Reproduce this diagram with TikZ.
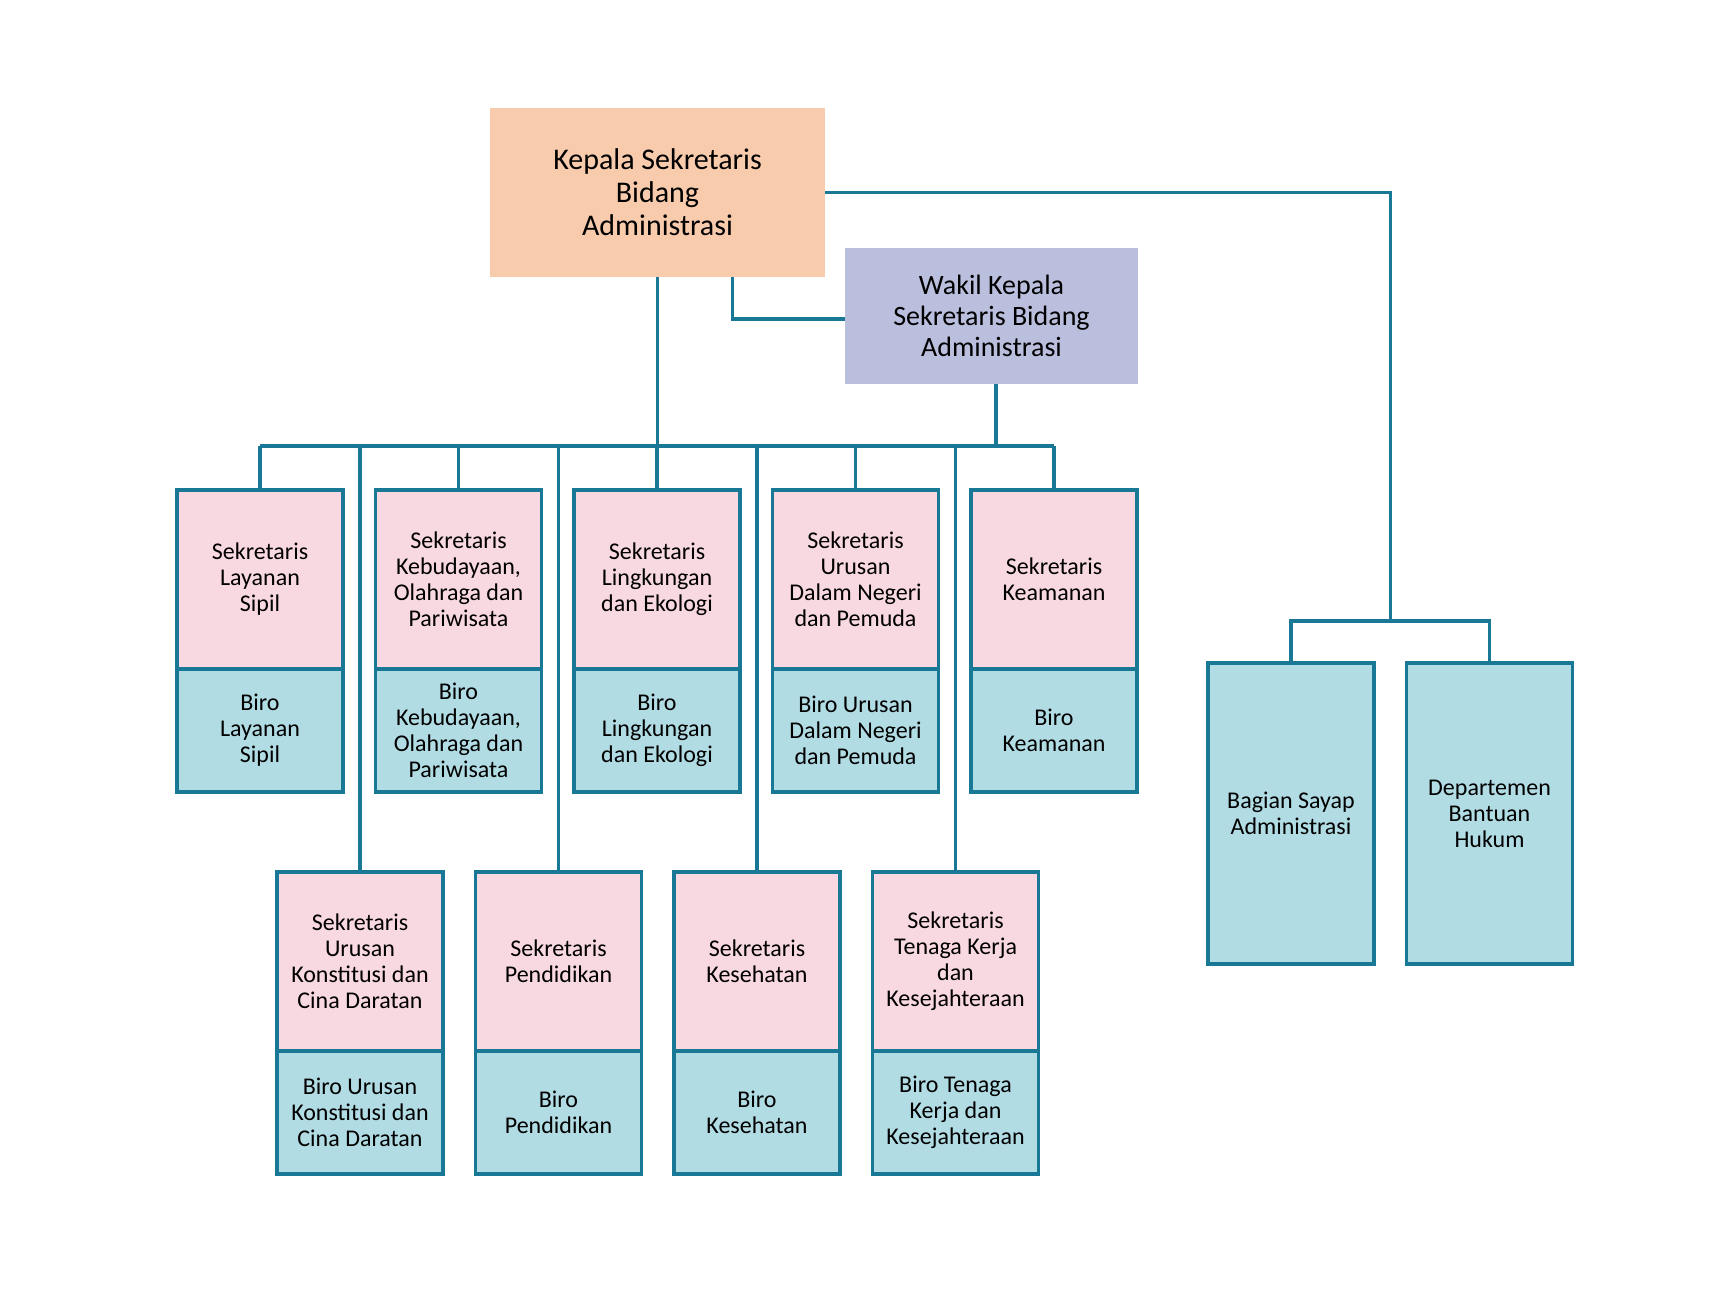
\documentclass[tikz,border=0pt]{standalone}
\usepackage{fontspec}
\setmainfont{Carlito}
\usetikzlibrary{positioning,calc}
\definecolor{OrgTeal}{HTML}{1A7897}
\definecolor{OrgOrange}{HTML}{F8CBAD}
\definecolor{OrgLavender}{HTML}{BBBFDE}
\definecolor{OrgPink}{HTML}{F8D9E1}
\definecolor{OrgBlue}{HTML}{B1DCE4}
\tikzset{
  headbox/.style={fill=OrgOrange, align=center, minimum width=167.5pt, minimum height=84.5pt, outer sep=0pt, font=\fontsize{15}{16.5}\selectfont},
  deputybox/.style={fill=OrgLavender, align=center, minimum width=146.5pt, minimum height=68pt, outer sep=0pt, font=\fontsize{14}{15.5}\selectfont},
  sekbox/.style={draw=OrgTeal, line width=1.6pt, fill=OrgPink, align=center, minimum width=83pt, minimum height=89.5pt, inner sep=2pt, outer sep=0pt, font=\fontsize{12}{13}\selectfont},
  birobox/.style={sekbox, fill=OrgBlue, minimum height=61.5pt},
  unitbox/.style={sekbox, fill=OrgBlue, minimum height=150.5pt},
  link/.style={line width=1.7pt, draw=OrgTeal}
}
\begin{document}
\begin{tikzpicture}[x=0.5pt, y=-0.5pt, node distance=16.25pt]
\useasboundingbox (0,0) rectangle (1736,1294);
% top level
\node[headbox] (head) at (657.5,192.5) {Kepala Sekretaris\\Bidang\\Administrasi};
\node[deputybox] (deputy) at (991.5,316) {Wakil Kepala\\Sekretaris Bidang\\Administrasi};
% first row of secretaries
\node[sekbox, anchor=north] (sLay) at (260,490) {Sekretaris\\Layanan\\Sipil};
\node[sekbox, right=of sLay] (sBud) {Sekretaris\\Kebudayaan,\\Olahraga dan\\Pariwisata};
\node[sekbox, right=of sBud] (sLing) {Sekretaris\\Lingkungan\\dan Ekologi};
\node[sekbox, right=of sLing] (sDN) {Sekretaris\\Urusan\\Dalam Negeri\\dan Pemuda};
\node[sekbox, right=of sDN] (sKeam) {Sekretaris\\Keamanan};
\node[birobox, below=0pt of sLay] (bLay) {Biro\\Layanan\\Sipil};
\node[birobox, below=0pt of sBud] (bBud) {Biro\\Kebudayaan,\\Olahraga dan\\Pariwisata};
\node[birobox, below=0pt of sLing] (bLing) {Biro\\Lingkungan\\dan Ekologi};
\node[birobox, below=0pt of sDN] (bDN) {Biro Urusan\\Dalam Negeri\\dan Pemuda};
\node[birobox, below=0pt of sKeam] (bKeam) {Biro\\Keamanan};
% second row of secretaries
\node[sekbox, anchor=north] (sKons) at (360,872) {Sekretaris\\Urusan\\Konstitusi dan\\Cina Daratan};
\node[sekbox, right=of sKons] (sPend) {Sekretaris\\Pendidikan};
\node[sekbox, right=of sPend] (sKes) {Sekretaris\\Kesehatan};
\node[sekbox, right=of sKes] (sTK) {Sekretaris\\Tenaga Kerja\\dan\\Kesejahteraan};
\node[birobox, below=0pt of sKons] (bKons) {Biro Urusan\\Konstitusi dan\\Cina Daratan};
\node[birobox, below=0pt of sPend] (bPend) {Biro\\Pendidikan};
\node[birobox, below=0pt of sKes] (bKes) {Biro\\Kesehatan};
\node[birobox, below=0pt of sTK] (bTK) {Biro Tenaga\\Kerja dan\\Kesejahteraan};
% administrative units
\node[unitbox, anchor=north] (wing) at (1291,663) {Bagian Sayap\\Administrasi};
\node[unitbox, right=of wing] (legal) {Departemen\\Bantuan\\Hukum};
% connectors
\coordinate (bus) at (0,446);
\coordinate (rbus) at (0,621);
\draw[link] (sLay.north |- bus) -- (sKeam.north |- bus);
\draw[link] (head.south) -- (head.south |- bus);
\draw[link] ([xshift=2.25pt]deputy.south) -- ([xshift=2.25pt]deputy.south |- bus);
\draw[link] ([yshift=-1.5pt]deputy.west) -| ([xshift=37.5pt]head.south);
\draw[link] (sLay.north) -- (sLay.north |- bus);
\draw[link] (sBud.north) -- (sBud.north |- bus);
\draw[link] (sLing.north) -- (sLing.north |- bus);
\draw[link] (sDN.north) -- (sDN.north |- bus);
\draw[link] (sKeam.north) -- (sKeam.north |- bus);
\draw[link] (sKons.north) -- (sKons.north |- bus);
\draw[link] (sPend.north) -- (sPend.north |- bus);
\draw[link] (sKes.north) -- (sKes.north |- bus);
\draw[link] (sTK.north) -- (sTK.north |- bus);
\draw[link] (head.east) -| ($(wing.north |- rbus)!0.5!(legal.north |- rbus)$);
\draw[link] (wing.north) -- (wing.north |- rbus) -- (legal.north |- rbus) -- (legal.north);
\end{tikzpicture}
\end{document}
